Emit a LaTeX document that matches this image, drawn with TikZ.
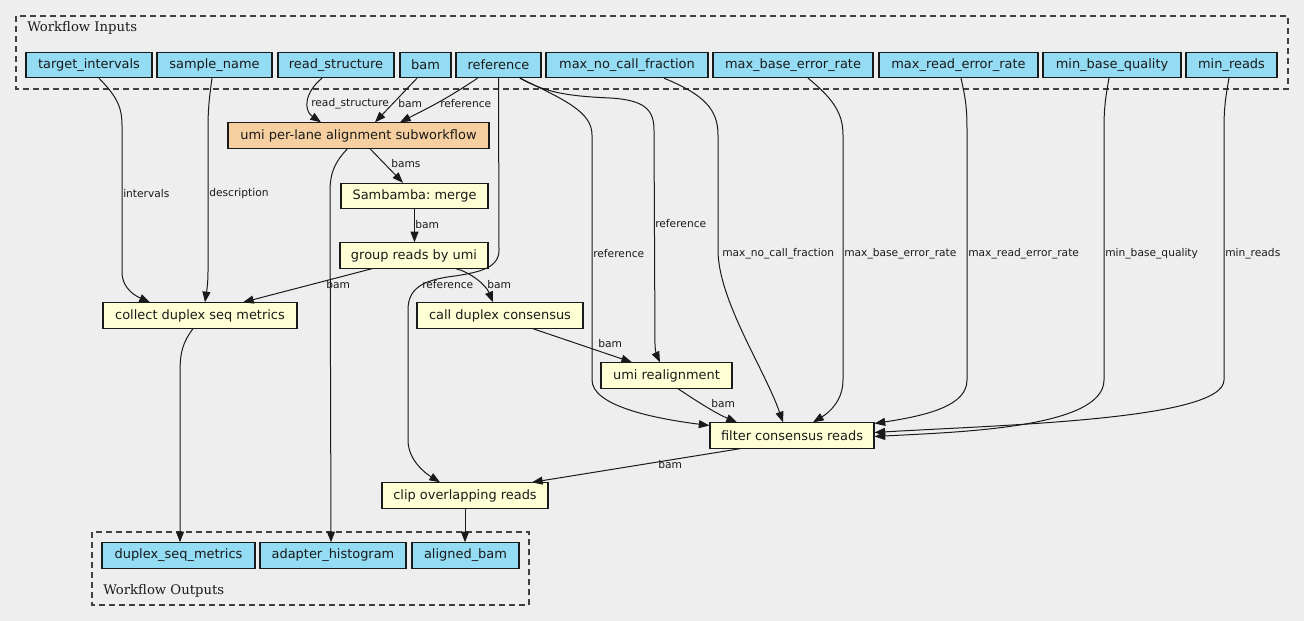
\documentclass[tikz,border=0pt]{standalone}
\usepackage{fontspec}
\setmainfont{DejaVu Sans}
\newfontfamily\clufont{DejaVu Serif}
\usetikzlibrary{arrows.meta,calc}
\frenchspacing
\definecolor{BgClr}{HTML}{EEEEEE}
\definecolor{IoClr}{HTML}{94DCF4}
\definecolor{TaskClr}{HTML}{FFFFD6}
\definecolor{SubClr}{HTML}{F5CFA0}
\definecolor{LineClr}{HTML}{1A1A1A}

\tikzset{
  box/.style={draw=LineClr,line width=0.8pt,inner sep=0pt,minimum height=19pt,
    font=\fontsize{9.7}{11}\selectfont,text=LineClr},
  io/.style={box,fill=IoClr},
  task/.style={box,fill=TaskClr},
  sub/.style={box,fill=SubClr},
  wd/.style={minimum width=#1*0.75pt},
  wire/.style={draw=LineClr,line width=0.75pt,-{Triangle[length=8pt,width=6pt]}},
  lbl/.style={anchor=west,inner sep=0pt,font=\fontsize{8}{9}\selectfont,text=LineClr},
  cluster/.style={draw=black!75,line width=0.8pt,dash pattern=on 4.5pt off 3pt},
  clulabel/.style={anchor=west,inner sep=0pt,font=\clufont\fontsize{9.9}{11}\selectfont,text=LineClr}
}

\begin{document}
\begin{tikzpicture}[x=0.75pt,y=-0.75pt]
\fill[BgClr] (0,0) rectangle (1304,621);
\useasboundingbox (0,0) rectangle (1304,621);

% clusters
\draw[cluster] (16,16) rectangle (1288,89);
\node[clulabel] (inlbl) at (27,28) {Workflow Inputs};
\draw[cluster] (92,532) rectangle (529,605);
\node[clulabel] (outlbl) at (103,591) {Workflow Outputs};

% inputs
\node[io,wd=126] (ti)   at (89,65)     {target\_intervals};
\node[io,wd=115] (sn)   at (214.5,65)  {sample\_name};
\node[io,wd=116] (rs)   at (336,65)    {read\_structure};
\node[io,wd=51]  (bam)  at (425.5,65)  {bam};
\node[io,wd=85]  (ref)  at (498.5,65)  {reference};
\node[io,wd=162] (mncf) at (627,65)    {max\_no\_call\_fraction};
\node[io,wd=160] (mber) at (793,65)    {max\_base\_error\_rate};
\node[io,wd=159] (mrer) at (958.5,65)  {max\_read\_error\_rate};
\node[io,wd=138] (mbq)  at (1112,65)   {min\_base\_quality};
\node[io,wd=91]  (mr)   at (1231.5,65) {min\_reads};

% tasks
\node[sub,wd=261]  (umi)     at (358.5,135.5) {umi per-lane alignment subworkflow};
\node[task,wd=147] (merge)   at (414.5,196)   {Sambamba: merge};
\node[task,wd=148] (group)   at (414,255.5)   {group reads by umi};
\node[task,wd=194] (collect) at (200,315.5)   {collect duplex seq metrics};
\node[task,wd=166] (call)    at (500,315.5)   {call duplex consensus};
\node[task,wd=131] (realign) at (666.5,375.5) {umi realignment};
\node[task,wd=164] (filter)  at (792,435.5)   {filter consensus reads};
\node[task,wd=166] (clip)    at (465,495.5)   {clip overlapping reads};

% outputs
\node[io,wd=153] (dsm) at (178.5,555.5) {duplex\_seq\_metrics};
\node[io,wd=146] (ah)  at (333,555.5)   {adapter\_histogram};
\node[io,wd=107] (ab)  at (465.5,555.5) {aligned\_bam};

% input edges
\draw[wire] ($(ti.south)+(10,0)$) .. controls (115,95) and (122,105) .. (122,125)
  -- (122,272) .. controls (122,290) and (138,297) .. ($(collect.north)+(-50,0)$);
\node[lbl] (l1) at (123,194) {intervals};
\draw[wire] ($(sn.south)+(-2.5,0)$) .. controls (209,100) and (208,110) .. (208,130)
  -- (208,272) .. controls (208,286) and (206,295) .. ($(collect.north)+(5,0)$);
\node[lbl] (l2) at (209,194) {description};
\draw[wire] ($(rs.south)+(-14,0)$) .. controls (305,92) and (303,110) .. ($(umi.north)+(-37.5,0)$);
\node[lbl] (l3) at (311,104) {read\_structure};
\draw[wire] ($(bam.south)+(-8.5,0)$) -- ($(umi.north)+(16.5,0)$);
\node[lbl] (l4) at (398,104) {bam};
\draw[wire] ($(ref.south)+(-21,0)$) .. controls (445,100) and (428,108) .. ($(umi.north)+(41.5,0)$);
\node[lbl] (l5) at (440,104) {reference};

% pipeline edges
\draw[wire] ($(umi.south)+(11.5,0)$) -- ($(merge.north)+(-11.5,0)$);
\node[lbl] (l6) at (391,164) {bams};
\draw[wire] (merge.south) -- (merge.south |- group.north);
\node[lbl] (l7) at (415,225) {bam};
\draw[wire] ($(group.south)+(-42,0)$) -- ($(collect.north)+(43,0)$);
\node[lbl] (l8) at (326,285) {bam};
\draw[wire] ($(group.south)+(42,0)$) .. controls (470,272) and (486,285) .. ($(call.north)+(-7,0)$);
\node[lbl] (l9) at (487,285) {bam};
\draw[wire] (ref.south) -- (499,250) .. controls (499,268) and (480,272) .. (455,276)
  .. controls (420,280) and (408,290) .. (408,310) -- (408,440)
  .. controls (408,460) and (425,473) .. ($(clip.north)+(-25,0)$);
\node[lbl] (l10) at (422,285) {reference};
\draw[wire] ($(umi.south)+(-11,0)$) .. controls (335,162) and (330,172) .. (330,192)
  -- ($(ah.north)+(-2,0)$);
\draw[wire] ($(collect.south)+(-7,0)$) .. controls (183,342) and (180,352) .. (180,372)
  -- ($(dsm.north)+(1.5,0)$);
\draw[wire] (clip.south) -- (clip.south |- ab.north);
\draw[wire] ($(filter.south)+(-52,0)$) -- ($(clip.north)+(67,0)$);
\node[lbl] (l11) at (658,465) {bam};
\draw[wire] ($(call.south)+(33,0)$) -- ($(realign.north)+(-34.5,0)$);
\node[lbl] (l12) at (598,344) {bam};
\draw[wire] ($(realign.south)+(11.5,0)$) .. controls (695,400) and (715,413) .. ($(filter.north)+(-55,0)$);
\node[lbl] (l13) at (711,404) {bam};

% reference to realignment and filter
\draw[wire] ($(ref.south)+(21.5,0)$) .. controls (545,92) and (565,96) .. (610,98)
  .. controls (645,100) and (654,110) .. (654,130) -- (655,345)
  .. controls (655,352) and (658,358) .. ($(realign.north)+(-6.5,0)$);
\node[lbl] (l14) at (655,224) {reference};
\draw[wire] ($(ref.south)+(21.5,0)$) .. controls (565,100) and (592,112) .. (592,135)
  -- (592,380) .. controls (592,405) and (650,418) .. ($(filter.west)+(0,-10)$);
\node[lbl] (l15) at (593,254) {reference};

% parameters to filter
\draw[wire] ($(mncf.south)+(37,0)$) .. controls (705,95) and (718,110) .. (718,135)
  -- (718,250) .. controls (718,300) and (765,370) .. ($(filter.north)+(-9,0)$);
\node[lbl] (l16) at (722,254) {max\_no\_call\_fraction};
\draw[wire] ($(mber.south)+(15,0)$) .. controls (835,100) and (843,115) .. (843,135)
  -- (843,380) .. controls (843,400) and (830,412) .. ($(filter.north)+(21,0)$);
\node[lbl] (l17) at (844,254) {max\_base\_error\_rate};
\draw[wire] ($(mrer.south)+(2.5,0)$) .. controls (966,100) and (967,110) .. (967,130)
  -- (967,380) .. controls (967,405) and (930,415) .. ($(filter.east)+(0,-12)$);
\node[lbl] (l18) at (968,254) {max\_read\_error\_rate};
\draw[wire] ($(mbq.south)+(-3,0)$) .. controls (1105,100) and (1104,110) .. (1104,130)
  -- (1104,380) .. controls (1104,428) and (960,432) .. ($(filter.east)+(0,1)$);
\node[lbl] (l19) at (1105,254) {min\_base\_quality};
\draw[wire] ($(mr.south)+(-2.5,0)$) .. controls (1225,100) and (1224,110) .. (1224,130)
  -- (1224,380) .. controls (1224,420) and (1000,425) .. ($(filter.east)+(0,-3)$);
\node[lbl] (l20) at (1225,254) {min\_reads};
\end{tikzpicture}
\end{document}
